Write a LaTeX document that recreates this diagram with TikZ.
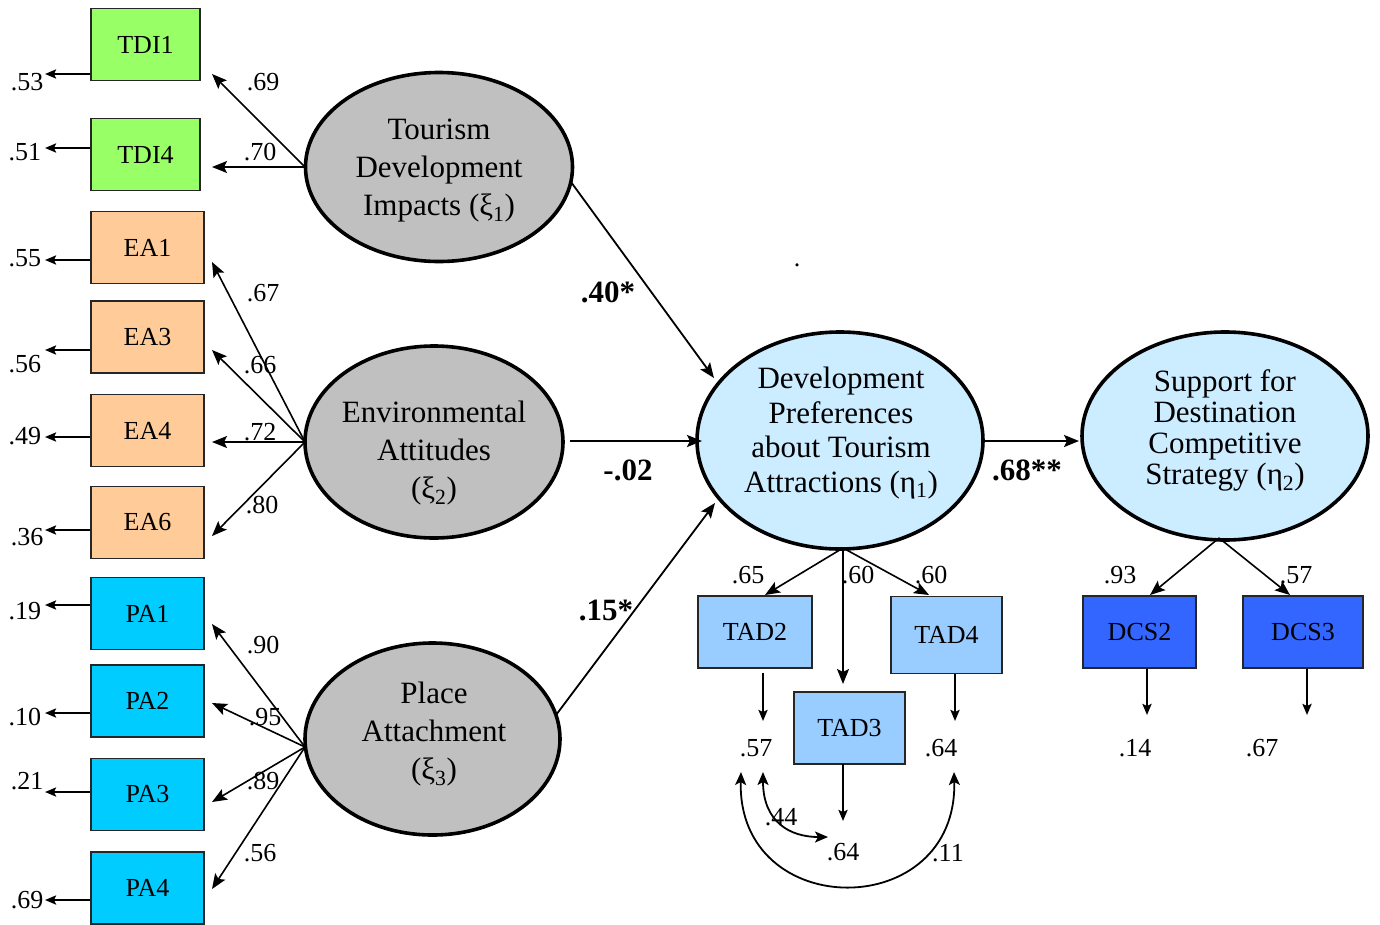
\documentclass[tikz,border=0pt]{standalone}
\usepackage{fontspec}
\setmainfont{Liberation Serif}
\usetikzlibrary{arrows.meta,shapes.geometric}

\definecolor{tdigreen}{HTML}{99FF66}
\definecolor{eaorange}{HTML}{FFCC99}
\definecolor{pacyan}{HTML}{00CCFF}
\definecolor{tadblue}{HTML}{99CCFF}
\definecolor{dcsblue}{HTML}{3366FF}
\definecolor{latgray}{HTML}{C0C0C0}
\definecolor{endoblue}{HTML}{CCECFF}

\tikzset{
  ind/.style={draw=black!85, line width=1.8pt, minimum height=72pt, inner sep=0pt,
              font=\fontsize{26}{30}\selectfont},
  lat/.style={ellipse, draw=black, line width=3.6pt, inner sep=0pt},
  lattext/.style={align=center, inner sep=0pt},
  num/.style={font=\fontsize{26}{30}\selectfont, inner sep=0pt},
  coef/.style={font=\fontsize{31}{36}\selectfont\bfseries, inner sep=0pt},
  load/.style={line width=1.6pt, -{Stealth[length=15pt,width=12pt,inset=3pt]}},
  err/.style={line width=2.2pt, -{Stealth[length=11pt,width=9pt,inset=2pt]}},
  struct/.style={line width=1.8pt, -{Stealth[length=15pt,width=12pt,inset=3pt]}},
  cov/.style={line width=1.8pt, {Stealth[length=13pt,width=11pt,inset=3pt]}-{Stealth[length=13pt,width=11pt,inset=3pt]}},
}

\begin{document}
\begin{tikzpicture}[x=1pt,y=-1pt]
\useasboundingbox (0,0) rectangle (1380,924);

% ---------- exogenous latent variables ----------
\node[lat, fill=latgray, minimum width=267pt, minimum height=189pt] (xi1) at (439,167) {};
\node[lattext, font=\fontsize{31}{38}\selectfont] (xi1t) at (439,171)
  {Tourism\\Development\\Impacts (ξ\textsubscript{1})};

\node[lat, fill=latgray, minimum width=258pt, minimum height=192pt] (xi2) at (434,442) {};
\node[lattext, font=\fontsize{31}{38}\selectfont] (xi2t) at (434,453)
  {Environmental\\Attitudes\\(ξ\textsubscript{2})};

\node[lat, fill=latgray, minimum width=255pt, minimum height=192pt] (xi3) at (432.5,739) {};
\node[lattext, font=\fontsize{31}{38}\selectfont] (xi3t) at (434,734)
  {Place\\Attachment\\(ξ\textsubscript{3})};

% ---------- endogenous latent variables ----------
\node[lat, fill=endoblue, minimum width=286pt, minimum height=217pt] (eta1) at (840,440.5) {};
\node[lattext, font=\fontsize{31}{34.5}\selectfont] (eta1t) at (841,433)
  {Development\\Preferences\\about Tourism\\Attractions (η\textsubscript{1})};

\node[lat, fill=endoblue, minimum width=286pt, minimum height=208pt] (eta2) at (1225,436) {};
\node[lattext, font=\fontsize{31}{31}\selectfont] (eta2t) at (1225,430.5)
  {Support for\\Destination\\Competitive\\Strategy (η\textsubscript{2})};

% ---------- indicators of the exogenous factors ----------
\foreach \n/\t/\c/\cx/\cy/\w/\ey/\ev/\nx/\ny in {
  TDI1/TDI1/tdigreen/145.5/44.5/109/74/.53/27/82,
  TDI4/TDI4/tdigreen/145.5/154.5/109/148/.51/25/152,
  EA1/EA1/eaorange/147.5/247.5/113/260/.55/25/258,
  EA3/EA3/eaorange/147.5/337/113/350/.56/25/364,
  EA4/EA4/eaorange/147.5/430.5/113/437/.49/25/436,
  EA6/EA6/eaorange/147.5/522.5/113/530/.36/27/537,
  PA1/PA1/pacyan/147.5/613.5/113/605/.19/25/611,
  PA2/PA2/pacyan/147.5/701/113/713/.10/25/717,
  PA3/PA3/pacyan/147.5/794.5/113/792/.21/27/781,
  PA4/PA4/pacyan/147.5/888/113/900/.69/27/900}
{
  \node[ind, fill=\c, minimum width=\w pt] (\n) at (\cx,\cy) {\t};
  \coordinate (\n-e) at (45,\ey);
  \draw[err] (\n.west |- \n-e) -- (\n-e);
  \node[num] (\n-ev) at (\nx,\ny) {\ev};
}

% loading origins on the factor ellipses
\coordinate (xi1o) at (305,167);
\coordinate (xi2o) at (305,442);
\coordinate (xi3o) at (305,747);

\foreach \n/\o/\ty/\lv/\lx/\ly in {
  TDI1/xi1o/74/.69/263/82,
  TDI4/xi1o/167/.70/260/152,
  EA1/xi2o/262/.67/263/293,
  EA3/xi2o/350/.66/260/365,
  EA4/xi2o/442/.72/260/432,
  EA6/xi2o/536/.80/262/505,
  PA1/xi3o/624/.90/263/645,
  PA2/xi3o/703/.95/265/717,
  PA3/xi3o/802/.89/263/781,
  PA4/xi3o/889/.56/260/853}
{
  \coordinate (\n-t) at (212,\ty);
  \draw[load] (\o) -- (\n-t);
  \node[num] (\n-lv) at (\lx,\ly) {\lv};
}

% ---------- structural paths ----------
\coordinate (p1s) at (571,182);
\coordinate (p1e) at (714,378);
\draw[struct] (p1s) -- (p1e);
\node[coef] (c1) at (608,292) {.40*};

\coordinate (p2s) at (570,441);
\coordinate (p2e) at (702,441);
\draw[struct, line width=2.4pt] (p2s) -- (p2e);
\node[coef] (c2) at (628,470) {-.02};

\coordinate (p3s) at (556,715);
\coordinate (p3e) at (715,503);
\draw[struct] (p3s) -- (p3e);
\node[coef] (c3) at (606,610) {.15*};

\coordinate (p4s) at (983,441);
\coordinate (p4e) at (1079,441);
\draw[struct, line width=2.4pt] (p4s) -- (p4e);
\node[coef] (c4) at (1027,470) {.68**};

% ---------- indicators of eta 1 ----------
\node[ind, fill=tadblue, minimum width=114pt] (TAD2) at (755,632) {TAD2};
\node[ind, fill=tadblue, minimum width=111pt] (TAD3) at (849.5,728) {TAD3};
\node[ind, fill=tadblue, minimum width=111pt, minimum height=77pt] (TAD4) at (946.5,635) {TAD4};

\coordinate (eta1o) at (843,548);
\coordinate (TAD2-t) at (765,595);
\coordinate (TAD3-t) at (843,684);
\coordinate (TAD4-t) at (929,595);
\draw[load] (eta1o) -- (TAD2-t);
\draw[load] (eta1o) -- (TAD3-t);
\draw[load] (eta1o) -- (TAD4-t);
\node[num] (TAD2-lv) at (748,575) {.65};
\node[num] (TAD3-lv) at (858,575) {.60};
\node[num] (TAD4-lv) at (931,575) {.60};

\coordinate (TAD2-s) at (763,673);
\coordinate (TAD2-e) at (763,721);
\coordinate (TAD3-s) at (843,764);
\coordinate (TAD3-e) at (843,821);
\coordinate (TAD4-s) at (955,674);
\coordinate (TAD4-e) at (955,721);
\draw[err] (TAD2-s) -- (TAD2-e);
\draw[err] (TAD3-s) -- (TAD3-e);
\draw[err] (TAD4-s) -- (TAD4-e);
\node[num] (TAD2-ev) at (756,748) {.57};
\node[num] (TAD4-ev) at (941,748) {.64};
\node[num] (TAD3-ev) at (843,852) {.64};

% error covariances
\coordinate (cv1a) at (763,772);
\coordinate (cv1b) at (828,837);
\draw[cov] (cv1a) .. controls (763,822) and (790,837) .. (cv1b);
\node[num] (cv1l) at (781,817) {.44};

\coordinate (cv2a) at (741,772);
\coordinate (cv2b) at (954,772);
\draw[cov] (cv2a) .. controls (737,923) and (958,923) .. (cv2b);
\node[num] (cv2l) at (948,853) {.11};

% ---------- indicators of eta 2 ----------
\node[ind, fill=dcsblue, minimum width=113pt] (DCS2) at (1139.5,632) {DCS2};
\node[ind, fill=dcsblue, minimum width=120pt] (DCS3) at (1303,632) {DCS3};

\coordinate (eta2o) at (1219,538);
\coordinate (DCS2-t) at (1150,595);
\coordinate (DCS3-t) at (1290,595);
\draw[load] (eta2o) -- (DCS2-t);
\draw[load] (eta2o) -- (DCS3-t);
\node[num] (DCS2-lv) at (1120,575) {.93};
\node[num] (DCS3-lv) at (1296,575) {.57};

\coordinate (DCS2-e) at (1147,715);
\coordinate (DCS3-e) at (1307,715);
\draw[err] (DCS2.south -| DCS2-e) -- (DCS2-e);
\draw[err] (DCS3.south -| DCS3-e) -- (DCS3-e);
\node[num] (DCS2-ev) at (1135,748) {.14};
\node[num] (DCS3-ev) at (1262,748) {.67};

% small stray mark
\node[num, anchor=base] (dot) at (797,266) {.};
\end{tikzpicture}
\end{document}
